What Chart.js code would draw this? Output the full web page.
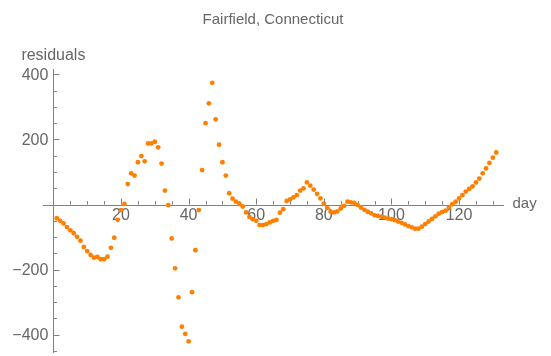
<!DOCTYPE html>
<html>
<head>
<meta charset="utf-8">
<script src="https://cdn.jsdelivr.net/npm/chart.js@4/dist/chart.umd.min.js"></script>
<style>
  html, body { margin: 0; padding: 0; background: #fff; }
  #wrap { width: 551px; height: 356px; position: relative; }
</style>
</head>
<body>
<div id="wrap"><canvas id="c"></canvas></div>
<script>
// ---- data ----
const titleText = "Fairfield, Connecticut";
const xAxisLabel = "days";
const yAxisLabel = "residuals";
const days = [1,2,3,4,5,6,7,8,9,10,11,12,13,14,15,16,17,18,19,20,
  21,22,23,24,25,26,27,28,29,30,31,32,33,34,35,36,37,38,39,40,
  41,42,43,44,45,46,47,48,49,50,51,52,53,54,55,56,57,58,59,60,
  61,62,63,64,65,66,67,68,69,70,71,72,73,74,75,76,77,78,79,80,
  81,82,83,84,85,86,87,88,89,90,91,92,93,94,95,96,97,98,99,100,
  101,102,103,104,105,106,107,108,109,110,111,112,113,114,115,116,117,118,119,120,
  121,122,123,124,125,126,127,128,129,130,131];
const residuals = [-42,-50,-58,-69,-79,-88,-99,-111,-130,-143,-155,-163,-161,-168,-168,-160,-133,-102,-47,-17,
  2,63,96,89,130,149,133,188,188,193,176,126,43,-2,-104,-196,-285,-375,-397,-420,
  -269,-140,-17,106,250,311,374,262,184,130,89,35,18,9,3,-6,-24,-38,-45,-50,
  -63,-63,-60,-55,-50,-47,-25,-14,11,16,22,29,43,50,68,58,46,33,19,3,
  -10,-22,-24,-21,-12,-4,9,7,5,-1,-9,-16,-22,-27,-33,-35,-37,-40,-43,-45,
  -48,-52,-56,-61,-66,-70,-74,-74,-68,-60,-52,-44,-36,-28,-23,-19,-9,1,9,19,
  29,40,48,56,68,80,96,111,128,144,160];
const xMajorTicks = [20,40,60,80,100,120];
const xMinorTicks = [5,10,15,25,30,35,45,50,55,65,70,75,85,90,95,105,110,115,125,130];
const yMajorTicks = [-400,-200,200,400];
const yMinorTicks = [-450,-350,-300,-250,-150,-100,-50,50,100,150,250,300,350];

const points = days.map((d, i) => ({ x: d, y: residuals[i] }));

const TEXT = "#666666";
const AXIS = "#808080";
const FONT = "'Liberation Sans', Arial, sans-serif";

const axesPlugin = {
  id: 'mmaAxes',
  beforeDatasetsDraw(chart) {
    const ctx = chart.ctx;
    const xs = chart.scales.x, ys = chart.scales.y;
    const ca = chart.chartArea;
    const x0 = xs.getPixelForValue(0);
    const y0 = ys.getPixelForValue(0);
    ctx.save();
    ctx.strokeStyle = AXIS;
    ctx.lineWidth = 1;
    // axis lines
    ctx.beginPath();
    ctx.moveTo(ca.left, Math.round(y0) + 0.5);
    ctx.lineTo(ca.right, Math.round(y0) + 0.5);
    ctx.moveTo(Math.round(x0) + 0.5, ca.top);
    ctx.lineTo(Math.round(x0) + 0.5, ca.bottom);
    // x ticks (upward)
    xMajorTicks.forEach(v => {
      const p = Math.round(xs.getPixelForValue(v)) + 0.5;
      ctx.moveTo(p, y0); ctx.lineTo(p, y0 - 6);
    });
    xMinorTicks.forEach(v => {
      const p = Math.round(xs.getPixelForValue(v)) + 0.5;
      ctx.moveTo(p, y0); ctx.lineTo(p, y0 - 3.5);
    });
    // y ticks (rightward)
    yMajorTicks.forEach(v => {
      const p = Math.round(ys.getPixelForValue(v)) + 0.5;
      ctx.moveTo(x0, p); ctx.lineTo(x0 + 6, p);
    });
    yMinorTicks.forEach(v => {
      const p = Math.round(ys.getPixelForValue(v)) + 0.5;
      ctx.moveTo(x0, p); ctx.lineTo(x0 + 3.5, p);
    });
    ctx.stroke();

    // tick labels
    ctx.fillStyle = TEXT;
    ctx.font = "16px " + FONT;
    ctx.textAlign = "center";
    ctx.textBaseline = "top";
    xMajorTicks.forEach(v => {
      ctx.fillText(String(v), xs.getPixelForValue(v), y0 + 3);
    });
    ctx.textAlign = "right";
    ctx.textBaseline = "middle";
    yMajorTicks.forEach(v => {
      const s = v < 0 ? "\u2212" + Math.abs(v) : String(v);
      ctx.fillText(s, x0 - 5, ys.getPixelForValue(v) + 1);
    });

    // axis labels
    ctx.textAlign = "center";
    ctx.textBaseline = "middle";
    ctx.fillText(yAxisLabel, x0, 56);
    ctx.save();
    ctx.beginPath();
    ctx.rect(0, 0, 537, chart.height);
    ctx.clip();
    ctx.textAlign = "left";
    ctx.font = "15px " + FONT;
    ctx.fillText(xAxisLabel, 512.5, y0 - 1);
    ctx.restore();

    // title
    ctx.font = "15px " + FONT;
    ctx.textAlign = "center";
    ctx.fillText(titleText, 273, 20);
    ctx.restore();
  }
};

new Chart(document.getElementById('c'), {
  type: 'scatter',
  data: {
    datasets: [{
      data: points,
      backgroundColor: 'rgb(255,128,0)',
      borderWidth: 0,
      pointRadius: 2.4,
      pointHoverRadius: 2.4
    }]
  },
  options: {
    responsive: true,
    maintainAspectRatio: false,
    devicePixelRatio: 1,
    animation: false,
    events: [],
    layout: { padding: { left: 43, right: 47, top: 69, bottom: 3 } },
    plugins: { legend: { display: false }, tooltip: { enabled: false }, title: { display: false } },
    scales: {
      x: { type: 'linear', display: false, min: -3.08, max: 133.3 },
      y: { type: 'linear', display: false, min: -456, max: 416.5 }
    }
  },
  plugins: [axesPlugin]
});
</script>
</body>
</html>
